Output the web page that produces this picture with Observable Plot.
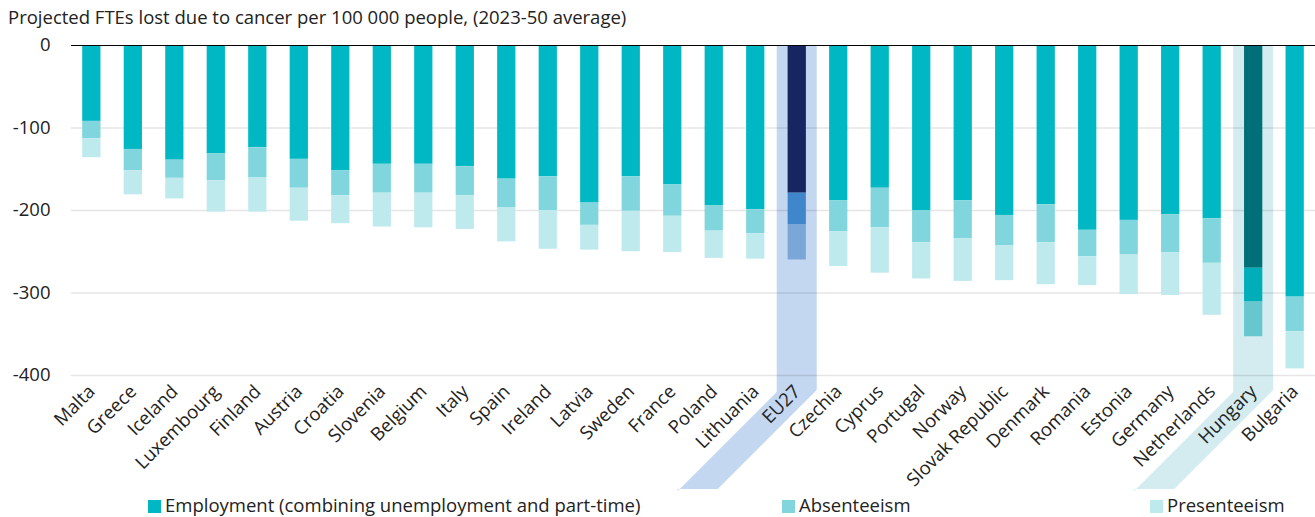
<!DOCTYPE html>
<html>
<head>
<meta charset="utf-8">
<script src="https://cdn.jsdelivr.net/npm/d3@7"></script>
<script src="https://cdn.jsdelivr.net/npm/@observablehq/plot@0.6"></script>
<style>
  html, body { margin: 0; padding: 0; background: #fff; }
  body { width: 1315px; height: 517px; position: relative; overflow: hidden; font-family: "Open Sans", sans-serif; color: #222; }
  #title { position: absolute; left: 8px; top: 5px; font-size: 18.5px; line-height: 24px; }
  #chart { position: absolute; left: 0; top: 30px; }
  #chart svg { overflow: visible; }
  .legend-item { position: absolute; top: 493px; font-size: 18.5px; line-height: 24px; white-space: nowrap; }
  .legend-item .sw { display: inline-block; width: 13px; height: 13px; margin-right: 4px; vertical-align: -1px; }
</style>
</head>
<body>
<div id="title">Projected FTEs lost due to cancer per 100 000 people, (2023-50 average)</div>
<div id="chart"></div>
<div id="legend"></div>
<script>
// ---- data ----
const countries = ["Malta","Greece","Iceland","Luxembourg","Finland","Austria","Croatia","Slovenia","Belgium","Italy","Spain","Ireland","Latvia","Sweden","France","Poland","Lithuania","EU27","Czechia","Cyprus","Portugal","Norway","Slovak Republic","Denmark","Romania","Estonia","Germany","Netherlands","Hungary","Bulgaria"];
const employment   = [-92,-126,-139,-131,-124,-138,-152,-144,-144,-147,-162,-159,-191,-159,-169,-194,-199,-179,-188,-173,-200,-188,-206,-193,-224,-212,-205,-210,-270,-305];
const absenteeism  = [-21,-26,-22,-33,-36,-35,-30,-35,-35,-35,-35,-41,-27,-42,-38,-31,-29,-38,-38,-48,-39,-46,-37,-46,-32,-42,-46,-54,-41,-42];
const presenteeism = [-23,-29,-25,-38,-42,-40,-34,-41,-42,-41,-41,-47,-30,-49,-44,-33,-31,-43,-42,-55,-44,-52,-42,-51,-35,-48,-52,-63,-42,-45];
const seriesNames = ["Employment (combining unemployment and part-time)","Absenteeism","Presenteeism"];
const yTicks = [0,-100,-200,-300,-400];
const highlighted = ["EU27","Hungary"];

// ---- styles ----
const palette = {
  default: ["#00B8C4","#80D6DC","#BFEAED"],
  EU27:    ["#172560","#3F87CA","#7AA7D8"],
  Hungary: ["#007078","#00AEBA","#68C6CE"]
};
const highlightFill = {EU27: "#C4D7F0", Hungary: "#D4EBEF"};

// ---- table for the library ----
const seriesValues = [employment, absenteeism, presenteeism];
const rows = [];
seriesNames.forEach((s, si) => {
  countries.forEach((c, ci) => {
    rows.push({country: c, series: s, si, value: seriesValues[si][ci],
               color: (palette[c] || palette.default)[si]});
  });
});

// custom mark: highlight band (vertical strip + slanted strip along the rotated label)
function highlightMark(index, scales, values, dimensions) {
  const sx = scales.x, sy = scales.y;
  const bw = typeof sx.bandwidth === "function" ? sx.bandwidth() : sx.bandwidth;
  const g = d3.create("svg:g");
  const bottom = sy(yTicks[yTicks.length - 1]);
  const top = sy(0);
  for (const c of highlighted) {
    const cx = sx(c) + bw / 2;
    const hw = 20;
    const yb = bottom + 17;
    const D = 99;
    g.append("path")
      .attr("fill", highlightFill[c])
      .attr("d", `M${cx - hw},${top}L${cx + hw},${top}L${cx + hw},${yb - 2}L${cx + hw - D},${yb - 2 + D}L${cx - hw - D},${yb - 2 + D}L${cx - hw - D},${yb + D}L${cx - hw},${yb}Z`);
  }
  return g.node();
}

const hasAxisMarks = typeof Plot.axisX === "function";
const xAxisOpts = {tickSize: 0, tickPadding: 13, tickRotate: -45, label: null};
const yAxisOpts = {ticks: yTicks, tickFormat: d => String(d), tickSize: 0, tickPadding: 21, label: null};

const chart = Plot.plot({
  width: 1315,
  height: 470,
  marginTop: 15,
  marginBottom: 125,
  marginLeft: 71,
  marginRight: 0,
  style: {fontFamily: "Open Sans, sans-serif", fontSize: "18.5px", color: "#222", background: "transparent"},
  x: Object.assign({domain: countries, paddingInner: 0.56, paddingOuter: 0.27, round: false}, hasAxisMarks ? {} : xAxisOpts),
  y: Object.assign({domain: [-400, 0]}, hasAxisMarks ? {} : yAxisOpts),
  marks: [
    highlightMark,
    Plot.ruleY(yTicks.filter(d => d !== 0), {stroke: "#000", strokeOpacity: 0.1, strokeWidth: 1.5}),
    Plot.barY(rows, {x: "country", y: "value", fill: "color", order: "si"}),
    Plot.ruleY([0], {stroke: "#000", strokeWidth: 1.2}),
    ...(hasAxisMarks ? [Plot.axisX(xAxisOpts), Plot.axisY(yAxisOpts)] : [])
  ]
});
document.getElementById("chart").appendChild(chart);

// ---- legend ----
const legendLeft = [148, 782, 1150];
const legend = document.getElementById("legend");
seriesNames.forEach((s, i) => {
  const item = document.createElement("div");
  item.className = "legend-item";
  item.style.left = legendLeft[i] + "px";
  const sw = document.createElement("span");
  sw.className = "sw";
  sw.style.background = palette.default[i];
  item.appendChild(sw);
  item.appendChild(document.createTextNode(s));
  legend.appendChild(item);
});
</script>
</body>
</html>
